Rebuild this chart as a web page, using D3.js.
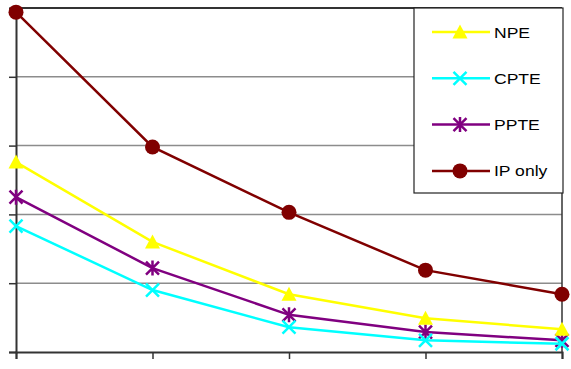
<!DOCTYPE html>
<html>
<head>
<meta charset="utf-8">
<script src="https://cdn.jsdelivr.net/npm/d3@7"></script>
<style>
  body { margin: 0; background: #fff; }
  svg { display: block; font-family: "Liberation Sans", Arial, sans-serif; }
</style>
</head>
<body>
<div id="chart"></div>
<script>
// categories are unlabeled on the original chart
const categories = [1, 2, 3, 4, 5];
const seriesNames = ["NPE", "CPTE", "PPTE", "IP only"];
const npe = [2.76, 1.60, 0.84, 0.49, 0.33];
const cpte = [1.83, 0.90, 0.36, 0.17, 0.12];
const ppte = [2.25, 1.22, 0.54, 0.29, 0.17];
const ipOnly = [4.94, 2.98, 2.03, 1.19, 0.84];
const yTicks = [0, 1, 2, 3, 4, 5];

const W = 571, H = 369;
const margin = {top: 8, right: 9, bottom: 17, left: 16};
const width = W - margin.left - margin.right;
const height = H - margin.top - margin.bottom;

const svg = d3.select("#chart").append("svg")
    .attr("width", W)
    .attr("height", H);

const g = svg.append("g")
    .attr("transform", `translate(${margin.left},${margin.top})`);

const x = d3.scalePoint().domain(categories).range([0, width]);
const y = d3.scaleLinear().domain([0, 5]).range([height, 0]);

// gridlines
g.selectAll(".grid")
    .data(yTicks.slice(1, -1))
    .enter().append("line")
    .attr("x1", 0).attr("x2", width)
    .attr("y1", d => y(d)).attr("y2", d => y(d))
    .attr("stroke", "#8c8c8c")
    .attr("stroke-width", 1.5);

// plot border (top and right)
g.append("line").attr("x1", 0).attr("x2", width).attr("y1", 0).attr("y2", 0)
    .attr("stroke", "#333").attr("stroke-width", 2);
g.append("line").attr("x1", width).attr("x2", width).attr("y1", 0).attr("y2", height)
    .attr("stroke", "#333").attr("stroke-width", 1.5);

// axes
const yAxis = g.append("g")
    .call(d3.axisLeft(y).tickValues(yTicks).tickSize(7).tickFormat(""));
const xAxis = g.append("g")
    .attr("transform", `translate(0,${height})`)
    .call(d3.axisBottom(x).tickSize(7).tickFormat(""));
[yAxis, xAxis].forEach(a => {
  a.select(".domain").attr("stroke", "#333").attr("stroke-width", 2);
  a.selectAll(".tick line").attr("stroke", "#333").attr("stroke-width", 1.5);
});

const series = [
  {name: "NPE", values: npe, color: "#ffff00", marker: "triangle"},
  {name: "CPTE", values: cpte, color: "#00ffff", marker: "x"},
  {name: "PPTE", values: ppte, color: "#800080", marker: "star"},
  {name: "IP only", values: ipOnly, color: "#800000", marker: "circle"}
];

function drawMarker(sel, type, color) {
  if (type === "triangle") {
    sel.append("path").attr("d", "M0,-7.5 L7.5,6.5 L-7.5,6.5 Z").attr("fill", color);
  } else if (type === "circle") {
    sel.append("circle").attr("r", 7.5).attr("fill", color);
  } else if (type === "x") {
    sel.append("path").attr("d", "M-6.5,-6.5 L6.5,6.5 M-6.5,6.5 L6.5,-6.5")
        .attr("stroke", color).attr("stroke-width", 2.5).attr("fill", "none");
  } else if (type === "star") {
    sel.append("path").attr("d", "M-6.5,-6.5 L6.5,6.5 M-6.5,6.5 L6.5,-6.5 M0,-7.5 L0,7.5")
        .attr("stroke", color).attr("stroke-width", 2.5).attr("fill", "none");
  }
}

const line = d3.line()
    .x((d, i) => x(categories[i]))
    .y(d => y(d));

// draw in reverse so NPE sits on top like the original
series.slice().reverse().forEach(s => {
  g.append("path")
      .datum(s.values)
      .attr("fill", "none")
      .attr("stroke", s.color)
      .attr("stroke-width", 2.5)
      .attr("d", line);
  s.values.forEach((v, i) => {
    const m = g.append("g").attr("transform", `translate(${x(categories[i])},${y(v)})`);
    drawMarker(m, s.marker, s.color);
  });
});

// legend
const legend = svg.append("g").attr("transform", "translate(414,8)");
legend.append("rect")
    .attr("width", 149).attr("height", 185)
    .attr("fill", "#fff")
    .attr("stroke", "#222").attr("stroke-width", 1.2);

series.forEach((s, i) => {
  const row = legend.append("g").attr("transform", `translate(0,${24 + i * 46.3})`);
  row.append("line").attr("x1", 18).attr("x2", 76).attr("y1", 0).attr("y2", 0)
      .attr("stroke", s.color).attr("stroke-width", 2.5);
  const m = row.append("g").attr("transform", "translate(46,0)");
  drawMarker(m, s.marker, s.color);
  // original text is slightly stretched horizontally
  row.append("text")
      .attr("transform", "translate(80,5.5) scale(1.17,1)")
      .attr("font-size", 15)
      .attr("fill", "#000")
      .text(s.name);
});
</script>
</body>
</html>
